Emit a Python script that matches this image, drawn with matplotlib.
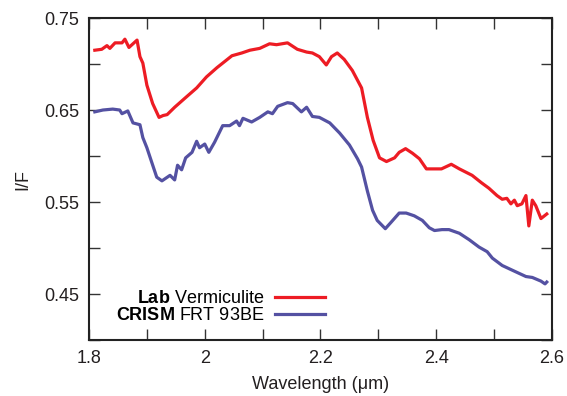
import numpy as np
import matplotlib
matplotlib.use("Agg")
import matplotlib.pyplot as plt
from matplotlib.ticker import MultipleLocator

# Spectra
lab_wl = [1.810, 1.822, 1.831, 1.836, 1.845, 1.857, 1.862, 1.869, 1.883, 1.888,
          1.893, 1.900, 1.910, 1.921, 1.928, 1.935, 1.948, 1.966, 1.986, 2.003,
          2.021, 2.035, 2.047, 2.064, 2.078, 2.095, 2.112, 2.124, 2.143, 2.160,
          2.176, 2.186, 2.198, 2.210, 2.219, 2.229, 2.241, 2.255, 2.271, 2.281,
          2.291, 2.302, 2.314, 2.328, 2.336, 2.347, 2.359, 2.371, 2.383, 2.409,
          2.426, 2.440, 2.462, 2.478, 2.491, 2.505, 2.514, 2.522, 2.529, 2.535,
          2.540, 2.548, 2.555, 2.560, 2.566, 2.572, 2.581, 2.591]
lab_if = [0.715, 0.716, 0.720, 0.717, 0.723, 0.723, 0.727, 0.718, 0.726, 0.708,
          0.701, 0.677, 0.657, 0.642, 0.644, 0.645, 0.653, 0.663, 0.674, 0.686,
          0.696, 0.703, 0.709, 0.712, 0.715, 0.717, 0.722, 0.721, 0.723, 0.716,
          0.713, 0.712, 0.708, 0.699, 0.708, 0.712, 0.705, 0.693, 0.674, 0.642,
          0.617, 0.598, 0.594, 0.598, 0.604, 0.608, 0.603, 0.597, 0.586, 0.586,
          0.591, 0.586, 0.579, 0.571, 0.565, 0.557, 0.553, 0.554, 0.548, 0.552,
          0.546, 0.548, 0.557, 0.524, 0.552, 0.546, 0.532, 0.537]

crism_wl = [1.810, 1.824, 1.841, 1.853, 1.857, 1.867, 1.876, 1.888, 1.893, 1.900,
            1.909, 1.917, 1.926, 1.940, 1.948, 1.953, 1.960, 1.967, 1.978, 1.986,
            1.991, 2.000, 2.007, 2.017, 2.031, 2.043, 2.055, 2.060, 2.066, 2.081,
            2.095, 2.109, 2.117, 2.126, 2.143, 2.152, 2.167, 2.176, 2.186, 2.198,
            2.216, 2.233, 2.250, 2.264, 2.271, 2.281, 2.290, 2.298, 2.312, 2.322,
            2.336, 2.348, 2.362, 2.376, 2.388, 2.397, 2.410, 2.422, 2.440, 2.457,
            2.474, 2.488, 2.497, 2.514, 2.531, 2.555, 2.566, 2.581, 2.588, 2.591]
crism_if = [0.648, 0.650, 0.651, 0.650, 0.646, 0.649, 0.636, 0.634, 0.620, 0.609,
            0.592, 0.577, 0.573, 0.579, 0.574, 0.590, 0.585, 0.598, 0.604, 0.616,
            0.609, 0.613, 0.604, 0.615, 0.633, 0.633, 0.638, 0.633, 0.641, 0.637,
            0.642, 0.648, 0.646, 0.654, 0.658, 0.657, 0.648, 0.653, 0.643, 0.642,
            0.636, 0.625, 0.612, 0.597, 0.588, 0.562, 0.541, 0.530, 0.521, 0.528,
            0.538, 0.538, 0.535, 0.530, 0.522, 0.519, 0.520, 0.520, 0.516, 0.509,
            0.501, 0.496, 0.489, 0.481, 0.476, 0.469, 0.468, 0.464, 0.461, 0.463]

x_ticks = [1.8, 2.0, 2.2, 2.4, 2.6]
x_labels = ["1.8", "2", "2.2", "2.4", "2.6"]
y_ticks = [0.45, 0.55, 0.65, 0.75]
y_labels = ["0.45", "0.55", "0.65", "0.75"]

RED = "#ED1C24"
BLUE = "#5451A2"
FS = 13

plt.rcParams['font.family'] = ['Liberation Sans', 'DejaVu Sans']
plt.rcParams['mathtext.fontset'] = 'custom'
plt.rcParams['mathtext.rm'] = 'Liberation Sans'
plt.rcParams['mathtext.bf'] = 'Liberation Sans:bold'

fig = plt.figure(figsize=(5.67, 3.96), dpi=100)
ax = fig.add_axes([0.157, 0.1414, 0.8165, 0.8131])

ax.plot(lab_wl, lab_if, color=RED, lw=2.3, label=r"$\bf{Lab}$ Vermiculite")
ax.plot(crism_wl, crism_if, color=BLUE, lw=2.3, label=r"$\bf{CRISM}$ FRT 93BE")

ax.set_xlim(1.8, 2.6)
ax.set_ylim(0.40, 0.75)
ax.set_xticks(x_ticks)
ax.set_xticklabels(x_labels)
ax.xaxis.set_minor_locator(MultipleLocator(0.1))
ax.set_yticks(y_ticks)
ax.set_yticklabels(y_labels)
ax.yaxis.set_minor_locator(MultipleLocator(0.05))
ax.tick_params(which='both', direction='in', top=True, right=True,
               length=8, width=1, color='#333333', labelsize=FS, pad=7,
               labelcolor='#231F20')

for sp in ax.spines.values():
    sp.set_linewidth(1.5)
    sp.set_color('#222222')

ax.set_xlabel("Wavelength (\u03bcm)", fontsize=FS, labelpad=7, color='#231F20')
ax.set_ylabel("I/F", fontsize=FS, labelpad=9, color='#231F20')

ax.legend(loc='lower right', bbox_to_anchor=(0.51, 0.05), frameon=False,
          markerfirst=False, fontsize=FS, handlelength=2.8,
          handletextpad=0.55, labelspacing=0.0, borderpad=0, borderaxespad=0)

fig.savefig("out.png", dpi=100)
